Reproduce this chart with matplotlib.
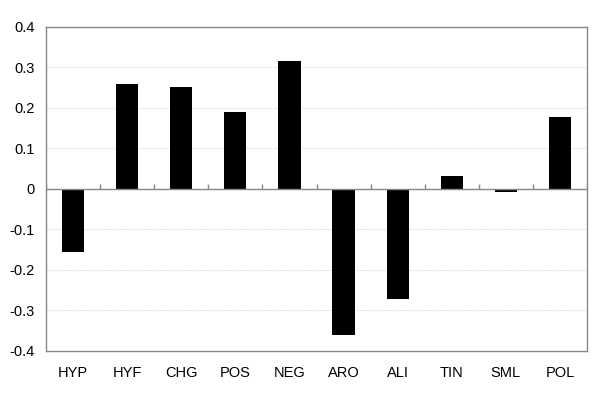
import matplotlib
matplotlib.use("Agg")
import matplotlib.pyplot as plt
import numpy as np

categories = ["HYP", "HYF", "CHG", "POS", "NEG", "ARO", "ALI", "TIN", "SML", "POL"]
values = [-0.155, 0.259, 0.252, 0.19, 0.316, -0.36, -0.271, 0.031, -0.008, 0.178]
yticks = [-0.4, -0.3, -0.2, -0.1, 0, 0.1, 0.2, 0.3, 0.4]
ytick_labels = ["-0.4", "-0.3", "-0.2", "-0.1", "0", "0.1", "0.2", "0.3", "0.4"]

plt.rcParams['font.family'] = ['Liberation Sans', 'DejaVu Sans']

fig = plt.figure(figsize=(6, 4), dpi=100)
ax = fig.add_axes([46/600, 1 - 351/400, (587-46)/600, (351-27)/400])

x = np.arange(len(categories))
ax.bar(x, values, width=0.41, color="black", zorder=3)

ax.set_xlim(-0.5, len(categories) - 0.5)
ax.set_ylim(-0.4, 0.4)
ax.set_yticks(yticks)
ax.set_yticklabels(ytick_labels)
ax.set_xticks(x)
ax.set_xticklabels(categories)

for yv in yticks:
    if yv not in (-0.4, 0, 0.4):
        ax.axhline(yv, color="#e2e2e2", lw=0.8, ls=(0, (2, 1)), zorder=1)

ax.axhline(0, color="#888888", lw=1.0, zorder=4)
ax.vlines(np.arange(len(categories) + 1) - 0.5, 0, 0.012, color="#888888", lw=1.0, zorder=4)

for s in ax.spines.values():
    s.set_color("#888888")
    s.set_linewidth(1.0)

ax.tick_params(axis="both", length=0, labelsize=10.5, colors="black")
ax.tick_params(axis="x", pad=11)
ax.tick_params(axis="y", pad=8)

fig.savefig("out.png", dpi=100)
